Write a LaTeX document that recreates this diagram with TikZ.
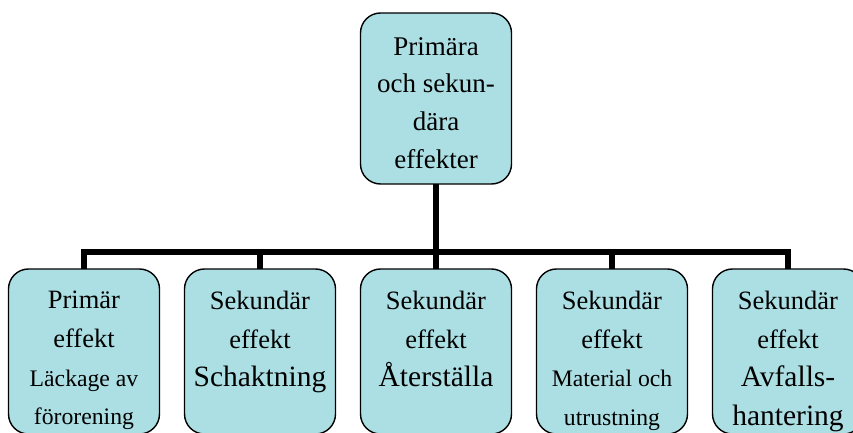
\documentclass[tikz,border=0pt]{standalone}
\usepackage{fontspec}
\setmainfont{Liberation Serif}
\definecolor{boxfill}{RGB}{172,223,227}
\tikzset{
  box/.style={draw=black, line width=1.4pt, fill=boxfill, rounded corners=20pt,
    minimum width=151pt, inner sep=0pt, outer sep=0pt},
  bottombox/.style={box, minimum height=165pt},
  txt/.style={anchor=north, align=center, inner sep=0pt},
  conn/.style={line width=6.5pt, line join=miter, line cap=butt}
}
\newcommand{\rmnorm}{\fontsize{26.5}{38.7}\selectfont}
\newcommand{\rmsmall}{\fontsize{23.7}{38.7}\selectfont}
\newcommand{\rmbig}{\fontsize{29.5}{38.7}\selectfont}
\begin{document}
\begin{tikzpicture}[x=1pt, y=-1pt]
  \useasboundingbox (0,0) rectangle (853,433);
  \clip (0,0) rectangle (853,433);

  % boxes
  \node[box, minimum height=171pt] (top) at (436,98.5) {};
  \node[bottombox] (b1) at (84,351.5) {};
  \node[bottombox] (b2) at (260,351.5) {};
  \node[bottombox] (b3) at (436,351.5) {};
  \node[bottombox] (b4) at (612,351.5) {};
  \node[bottombox] (b5) at (788,351.5) {};

  % connectors
  \coordinate (hub) at (436,252);
  \draw[conn] (top.south) -- (hub);
  \foreach \b in {b1,b2,b3,b4,b5}
    \draw[conn] (hub) -| (\b.north);

  % labels
  \node[txt, font=\fontsize{27}{37.7}\selectfont] (ttop) at (436,37)
    {Primära\\och sekun-\\dära\\effekter};
  \node[txt, font=\rmnorm] (t1) at (84,291)
    {Primär\\effekt\\\rmsmall Läckage av\\\rmsmall förorening};
  \node[txt, font=\rmnorm] (t2) at (260,291)
    {Sekundär\\effekt\\\rmbig Schaktning};
  \node[txt, font=\rmnorm] (t3) at (436,291)
    {Sekundär\\effekt\\\rmbig Återställa};
  \node[txt, font=\rmnorm] (t4) at (612,291)
    {Sekundär\\effekt\\\rmsmall Material och\\\rmsmall utrustning};
  \node[txt, font=\rmnorm] (t5) at (788,291)
    {Sekundär\\effekt\\\rmbig Avfalls-\\\rmbig hantering};
\end{tikzpicture}
\end{document}
